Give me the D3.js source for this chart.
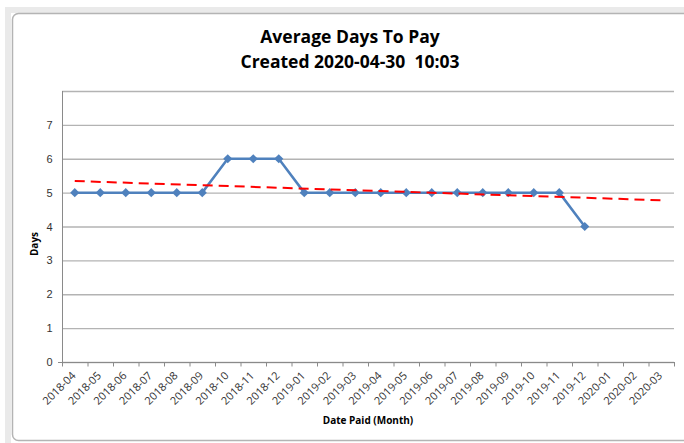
<!DOCTYPE html>
<html>
<head>
  <script src="https://d3js.org/d3.v7.min.js"></script>
  <style>
    body { margin: 0; background: #fff; }
    svg { display: block; font-family: "Open Sans", "DejaVu Sans", sans-serif; }
    .title { white-space: pre; }
  </style>
</head>
<body>
<svg id="chart" width="684" height="443"></svg>
<script>
// Months on the x axis (categories)
const months = ["2018-04","2018-05","2018-06","2018-07","2018-08","2018-09","2018-10","2018-11","2018-12",
  "2019-01","2019-02","2019-03","2019-04","2019-05","2019-06","2019-07","2019-08","2019-09","2019-10",
  "2019-11","2019-12","2020-01","2020-02","2020-03"];
// Average days to pay, one per month (last three months have no data)
const avgDays = [5,5,5,5,5,5,6,6,6,5,5,5,5,5,5,5,5,5,5,5,4];
const yTicks = [0,1,2,3,4,5,6,7,8];
const yLabels = ["0","1","2","3","4","5","6","7",""];
const titleLines = ["Average Days To Pay", "Created 2020-04-30  10:03"];

const svg = d3.select("#chart");

// spreadsheet behind the chart
const sheet = svg.append("g");
sheet.append("rect").attr("x", 0).attr("y", 0).attr("width", 684).attr("height", 443).attr("fill", "#fff");
sheet.append("rect").attr("x", 5).attr("y", 7).attr("width", 679).attr("height", 6).attr("fill", "#eaeaea");
sheet.append("rect").attr("x", 5).attr("y", 7).attr("width", 6).attr("height", 436).attr("fill", "#eaeaea");

// chart frame
svg.append("rect")
  .attr("x", 12.5).attr("y", 13.5).attr("width", 700).attr("height", 427)
  .attr("rx", 6)
  .attr("fill", "#fff").attr("stroke", "#b4b4b4").attr("stroke-width", 1.5);

const x = d3.scaleBand().domain(months).range([62, 674]);
const y = d3.scaleLinear().domain([0, 8]).range([362, 91]);

// gridlines
svg.append("g").selectAll("line").data(yTicks).join("line")
  .attr("x1", 62).attr("x2", 674)
  .attr("y1", d => y(d) + 0.5).attr("y2", d => y(d) + 0.5)
  .attr("stroke", "#b3b3b3").attr("stroke-width", 1.3);

// y axis
const yAxis = svg.append("g").attr("transform", "translate(62.5,0)")
  .call(d3.axisLeft(y).tickValues(yTicks).tickSize(0).tickPadding(10).tickFormat((d, i) => yLabels[i]));
yAxis.select(".domain").attr("stroke", "#8a8a8a").attr("d", "M0," + y(8) + "V" + (y(0) + 4));
yAxis.selectAll("text").attr("font-size", 11).attr("fill", "#333");

// x axis
const xAxis = svg.append("g").attr("transform", "translate(0," + (y(0) + 0.5) + ")");
xAxis.append("line").attr("x1", 58).attr("x2", 675).attr("stroke", "#8a8a8a");
xAxis.selectAll("line.tk").data(months.concat(["end"])).join("line").attr("class", "tk")
  .attr("x1", (d, i) => 62 + i * x.step() + 0.5).attr("x2", (d, i) => 62 + i * x.step() + 0.5)
  .attr("y1", 0).attr("y2", 4).attr("stroke", "#8a8a8a");
xAxis.selectAll("text").data(months).join("text")
  .attr("transform", d => "translate(" + (x(d) + x.bandwidth() / 2 - 1) + ",11) rotate(-45)")
  .attr("text-anchor", "end").attr("dy", "0.35em")
  .attr("font-size", 11).attr("fill", "#333")
  .text(d => d);

// data line
const pts = avgDays.map((v, i) => ({ m: months[i], v }));
const cx = d => x(d.m) + x.bandwidth() / 2;
svg.append("path").datum(pts)
  .attr("fill", "none").attr("stroke", "#4f81bd").attr("stroke-width", 2.5)
  .attr("stroke-linejoin", "round")
  .attr("d", d3.line().x(cx).y(d => y(d.v)));
svg.append("g").selectAll("path").data(pts).join("path")
  .attr("transform", d => "translate(" + cx(d) + "," + y(d.v) + ") rotate(45)")
  .attr("d", d3.symbol(d3.symbolSquare, 42))
  .attr("fill", "#4f81bd");

// linear trendline (least squares on the data, extended through 2020-03)
const xs = avgDays.map((v, i) => i + 1);
const mx = d3.mean(xs), my = d3.mean(avgDays);
const slope = d3.sum(xs, (xi, i) => (xi - mx) * (avgDays[i] - my)) / d3.sum(xs, xi => (xi - mx) * (xi - mx));
const trend = [months[0], months[months.length - 1]].map(m => {
  const xi = months.indexOf(m) + 1;
  return { m, v: my + slope * (xi - mx) };
});
svg.append("path").datum(trend)
  .attr("fill", "none").attr("stroke", "#ff0000").attr("stroke-width", 2)
  .attr("stroke-dasharray", "10,6")
  .attr("d", d3.line().x(cx).y(d => y(d.v)));

// titles
svg.append("g").selectAll("text").data(titleLines).join("text")
  .attr("class", "title")
  .attr("x", 350).attr("y", (d, i) => 43 + i * 25)
  .attr("text-anchor", "middle").attr("font-size", 17.5).attr("font-weight", "bold")
  .attr("fill", "#000").text(d => d);

svg.append("text")
  .attr("transform", "translate(38,244) rotate(-90)")
  .attr("text-anchor", "middle").attr("font-size", 10).attr("font-weight", "bold")
  .text("Days");

svg.append("text")
  .attr("x", 368).attr("y", 424)
  .attr("text-anchor", "middle").attr("font-size", 10).attr("font-weight", "bold")
  .text("Date Paid (Month)");
</script>
</body>
</html>
